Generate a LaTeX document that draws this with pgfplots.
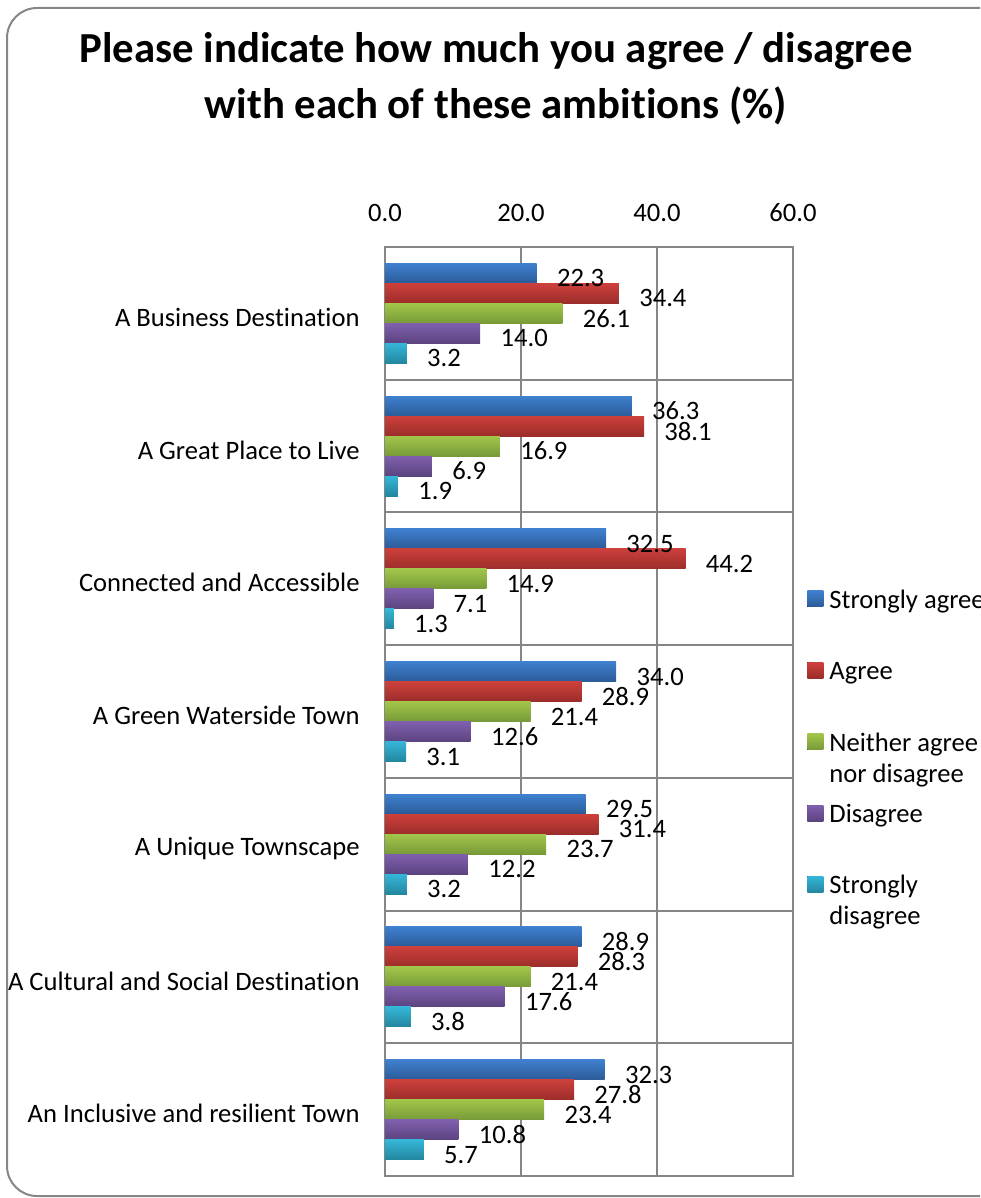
\documentclass[border=0pt]{standalone}
\usepackage{pgfplots}
\pgfplotsset{compat=1.18}
\usepackage{fontspec}
\setmainfont{Carlito}[Ligatures=CommonOff]
\definecolor{gridgray}{RGB}{134,134,134}
\definecolor{bluetop}{RGB}{63,128,207}\definecolor{bluebot}{RGB}{43,91,152}
\definecolor{redtop}{RGB}{205,64,59}\definecolor{redbot}{RGB}{155,45,42}
\definecolor{greentop}{RGB}{162,198,74}\definecolor{greenbot}{RGB}{119,154,56}
\definecolor{purpletop}{RGB}{128,96,174}\definecolor{purplebot}{RGB}{91,67,127}
\definecolor{cyantop}{RGB}{53,182,216}\definecolor{cyanbot}{RGB}{35,134,159}
\newcommand{\legbox}[1]{\raisebox{0pt}[9pt][3pt]{#1}}
\newcommand{\twol}[2]{\begin{tabular}[t]{@{}l@{}}#1\\#2\end{tabular}}
\pgfplotsset{
  sa/.style={draw=none, top color=bluetop, bottom color=bluebot, bar shift=20pt},
  ag/.style={draw=none, top color=redtop, bottom color=redbot, bar shift=10pt},
  ne/.style={draw=none, top color=greentop, bottom color=greenbot, bar shift=0pt},
  di/.style={draw=none, top color=purpletop, bottom color=purplebot, bar shift=-10pt},
  sd/.style={draw=none, top color=cyantop, bottom color=cyanbot, bar shift=-20pt},
}
\begin{document}
\begin{tikzpicture}
\useasboundingbox (0,0) rectangle (490pt,-599pt);
\clip (0,0) rectangle (490pt,-599pt);
\draw[gridgray, line width=1pt, rounded corners=15pt] (520pt,-4pt) -- (3.5pt,-4pt) -- (3.5pt,-598pt) -- (520pt,-598pt);
\node[anchor=base, font=\fontsize{21.4}{26}\selectfont\bfseries] at (248pt,-31.5pt) {Please indicate how much you agree / disagree};
\node[anchor=base, font=\fontsize{21.4}{26}\selectfont\bfseries] at (248pt,-59.5pt) {with each of these ambitions (\%)};
\begin{axis}[
  at={(192.5pt,-123.5pt)}, anchor=north west,
  scale only axis, width=204pt, height=464.5pt,
  xmin=0, xmax=60, ymin=-0.5, ymax=6.5,
  xbar, bar width=10pt,
  xtick={0,20,40,60}, xticklabel pos=upper,
  ytick={0,...,6},
  yticklabels={An Inclusive and resilient Town, A Cultural and Social Destination, A Unique Townscape, A Green Waterside Town, Connected and Accessible, A Great Place to Live, A Business Destination},
  minor ytick={-0.5,0.5,...,6.5},
  xmajorgrids, yminorgrids,
  major tick length=0pt, minor tick length=0pt,
  grid style={gridgray, line width=1pt},
  minor grid style={gridgray, line width=1pt},
  axis line style={gridgray, line width=1pt},
  /pgf/number format/.cd, fixed, fixed zerofill, precision=1, assume math mode=true,
  /pgfplots/.cd,
  tick label style={font=\fontsize{13.3}{15.5}\selectfont, text=black},
  xticklabel style={anchor=south, inner sep=0pt, yshift=12.5pt},
  yticklabel style={anchor=east, inner sep=0pt, xshift=-12.5pt, yshift=-2pt},
  point meta=x,
  nodes near coords,
  every node near coord/.append style={anchor=west, inner sep=0pt, xshift=10pt, yshift=-2.5pt, font=\fontsize{13.3}{15.5}\selectfont, text=black},
  legend image code/.code={\fill[#1] (0pt,-3pt) rectangle (8pt,5pt);},
  legend cell align=left,
  legend style={at={(1.0343,0.6308)}, anchor=north west, draw=none, fill=none,
    inner sep=0pt, row sep=25.2pt, font=\fontsize{13.3}{15.5}\selectfont,
    nodes={inner sep=0pt, inner xsep=3pt}},
]
% Strongly agree
\addplot[sa] coordinates {(22.3,6)};
\addlegendentry{\legbox{Strongly agree}}
\addplot[sa, forget plot] coordinates {(36.3,5)};
\addplot[sa, forget plot] coordinates {(32.5,4)};
\addplot[sa, forget plot] coordinates {(34.0,3)};
\addplot[sa, forget plot] coordinates {(29.5,2)};
\addplot[sa, forget plot] coordinates {(28.9,1)};
\addplot[sa, forget plot] coordinates {(32.3,0)};
% Agree
\addplot[ag] coordinates {(34.4,6)};
\addlegendentry{\legbox{Agree}}
\addplot[ag, forget plot] coordinates {(38.1,5)};
\addplot[ag, forget plot] coordinates {(44.2,4)};
\addplot[ag, forget plot] coordinates {(28.9,3)};
\addplot[ag, forget plot] coordinates {(31.4,2)};
\addplot[ag, forget plot] coordinates {(28.3,1)};
\addplot[ag, forget plot] coordinates {(27.8,0)};
% Neither agree nor disagree
\addplot[ne] coordinates {(26.1,6)};
\addlegendentry{\legbox{\twol{Neither agree}{nor disagree}}}
\addplot[ne, forget plot] coordinates {(16.9,5)};
\addplot[ne, forget plot] coordinates {(14.9,4)};
\addplot[ne, forget plot] coordinates {(21.4,3)};
\addplot[ne, forget plot] coordinates {(23.7,2)};
\addplot[ne, forget plot] coordinates {(21.4,1)};
\addplot[ne, forget plot] coordinates {(23.4,0)};
% Disagree
\addplot[di] coordinates {(14.0,6)};
\addlegendentry{\legbox{Disagree}}
\addplot[di, forget plot] coordinates {(6.9,5)};
\addplot[di, forget plot] coordinates {(7.1,4)};
\addplot[di, forget plot] coordinates {(12.6,3)};
\addplot[di, forget plot] coordinates {(12.2,2)};
\addplot[di, forget plot] coordinates {(17.6,1)};
\addplot[di, forget plot] coordinates {(10.8,0)};
% Strongly disagree
\addplot[sd] coordinates {(3.2,6)};
\addlegendentry{\legbox{\twol{Strongly}{disagree}}}
\addplot[sd, forget plot] coordinates {(1.9,5)};
\addplot[sd, forget plot] coordinates {(1.3,4)};
\addplot[sd, forget plot] coordinates {(3.1,3)};
\addplot[sd, forget plot] coordinates {(3.2,2)};
\addplot[sd, forget plot] coordinates {(3.8,1)};
\addplot[sd, forget plot] coordinates {(5.7,0)};
\end{axis}
\end{tikzpicture}
\end{document}
